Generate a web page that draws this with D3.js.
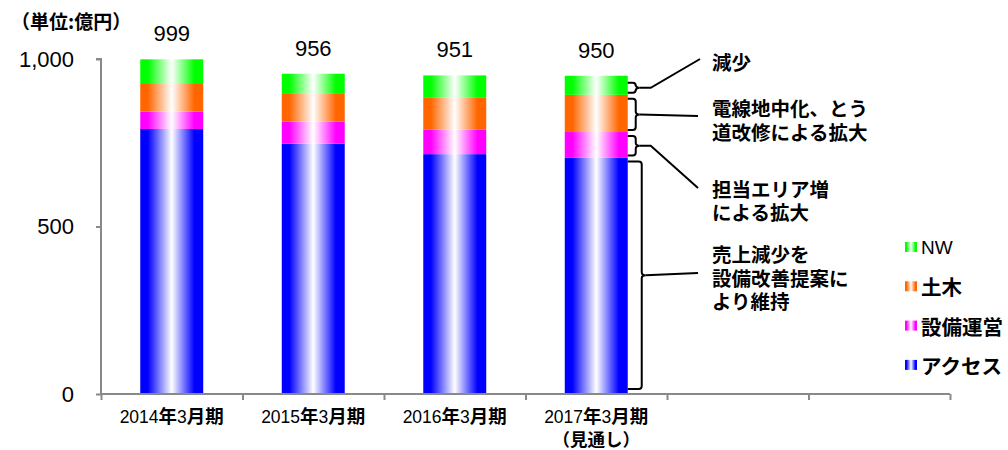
<!DOCTYPE html>
<html>
<head>
<meta charset="utf-8">
<script src="https://cdn.jsdelivr.net/npm/d3@7"></script>
<style>
  body { margin: 0; background: #fff; }
  svg { display: block; }
  .jp { font-family: "Noto Sans CJK JP", sans-serif; font-weight: bold; }
  .num { font-family: "Liberation Sans", Arial, sans-serif; }
</style>
</head>
<body>
<div id="chart"></div>
<script>
// data
const categories = ["2014年3月期", "2015年3月期", "2016年3月期", "2017年3月期"];
const subLabels = ["", "", "", "（見通し）"];
const totals = [999, 956, 951, 950];
const access = [791, 747, 716, 706];   // アクセス
const facility = [52, 66, 73, 76];     // 設備運営
const civil = [85, 85, 95, 111];       // 土木
const nw = [71, 58, 67, 57];           // NW
const seriesNames = ["アクセス", "設備運営", "土木", "NW"];
const seriesColors = ["#0000ff", "#ff00ff", "#ff6600", "#00ff00"];
const yTicks = [0, 500, 1000];
const slotCount = 6;   // 4 bars + 2 empty slots on the axis

// annotations for the last bar (series index -> lines)
const notes = [
    { series: 3, lines: ["減少"] },
    { series: 2, lines: ["電線地中化、とう", "道改修による拡大"] },
    { series: 1, lines: ["担当エリア増", "による拡大"] },
    { series: 0, lines: ["売上減少を", "設備改善提案に", "より維持"] }
];

const width = 1008;
const height = 450;
const axisLeftX = 101, axisRightX = 950, axisTopY = 59, axisBottomY = 394;

const svg = d3.select("#chart")
    .append("svg")
    .attr("width", width)
    .attr("height", height)
    .attr("viewBox", `0, 0, ${width}, ${height}`);

// gradients: color at edges, white streak in the middle
const defs = svg.append("defs");
seriesColors.forEach((c, i) => {
    const g = defs.append("linearGradient")
        .attr("id", "grad" + i)
        .attr("x1", "0%").attr("x2", "100%")
        .attr("y1", "0%").attr("y2", "0%");
    [[0, c], [0.12, c], [0.5, "#ffffff"], [0.86, c], [1, c]].forEach(s => {
        g.append("stop").attr("offset", s[0]).attr("stop-color", s[1]);
    });
});

// scales
const slots = d3.range(slotCount);
const xScale = d3.scaleBand()
    .domain(slots)
    .range([axisLeftX, axisRightX])
    .paddingInner(0.555)
    .paddingOuter(0.2775);
const edgeScale = d3.scaleLinear()
    .domain([0, slotCount])
    .range([axisLeftX, axisRightX]);
const yScale = d3.scaleLinear()
    .domain([0, 1000])
    .range([axisBottomY, axisTopY]);

// stacked data
const rows = categories.map((c, i) => ({
    idx: i, "アクセス": access[i], "設備運営": facility[i], "土木": civil[i], "NW": nw[i]
}));
const stacked = d3.stack().keys(seriesNames)(rows);

svg.append("g")
    .selectAll("g")
    .data(stacked)
    .join("g")
    .attr("fill", (d, i) => `url(#grad${i})`)
    .selectAll("rect")
    .data(d => d)
    .join("rect")
    .attr("x", d => xScale(d.data.idx))
    .attr("width", xScale.bandwidth())
    .attr("y", d => yScale(d[1]))
    .attr("height", d => yScale(d[0]) - yScale(d[1]));

// y axis
const leftAxis = d3.axisLeft(yScale)
    .tickValues(yTicks)
    .tickFormat(d3.format(","))
    .tickSize(5)
    .tickPadding(22);
const gy = svg.append("g")
    .attr("transform", `translate(${axisLeftX}, 0)`)
    .call(leftAxis);
gy.select(".domain").attr("stroke", "#898989").attr("stroke-width", 2)
    .attr("d", `M-5,${axisTopY}H0V${axisBottomY}`);
gy.selectAll(".tick line").attr("stroke", "#898989").attr("stroke-width", 2);
gy.selectAll(".tick text")
    .attr("class", "num")
    .attr("font-size", 22)
    .attr("fill", "#000");

// x axis (tick marks at slot edges)
const bottomAxis = d3.axisBottom(edgeScale)
    .tickValues(d3.range(slotCount + 1))
    .tickFormat("")
    .tickSize(6)
    .tickSizeOuter(6);
const gx = svg.append("g")
    .attr("transform", `translate(0, ${axisBottomY})`)
    .call(bottomAxis);
gx.select(".domain").attr("stroke", "#898989").attr("stroke-width", 2)
    .attr("d", `M${axisLeftX},0H${axisRightX}`);
gx.selectAll(".tick line").attr("stroke", "#898989").attr("stroke-width", 2);

// category labels (digits normal, kanji bold)
const catText = svg.append("g")
    .selectAll("text")
    .data(categories)
    .join("text")
    .attr("x", (d, i) => xScale(i) + xScale.bandwidth() / 2)
    .attr("y", 423)
    .attr("text-anchor", "middle");
catText.each(function (d) {
    const t = d3.select(this);
    d.match(/\d+|\D+/g).forEach(part => {
        const isNum = /\d/.test(part);
        t.append("tspan")
            .attr("font-family", isNum ? "Liberation Sans, Arial, sans-serif" : "Noto Sans CJK JP, sans-serif")
            .attr("font-weight", isNum ? "normal" : "bold")
            .attr("font-size", isNum ? 17.5 : 18.5)
            .text(part);
    });
});
svg.append("g")
    .selectAll("text")
    .data(subLabels)
    .join("text")
    .attr("class", "jp")
    .attr("x", (d, i) => xScale(i) + xScale.bandwidth() / 2)
    .attr("y", 446)
    .attr("text-anchor", "middle")
    .attr("font-size", 17.5)
    .text(d => d);

// value labels
svg.append("g")
    .selectAll("text")
    .data(totals)
    .join("text")
    .attr("class", "num")
    .attr("x", (d, i) => xScale(i) + xScale.bandwidth() / 2)
    .attr("y", d => yScale(d) - 18)
    .attr("text-anchor", "middle")
    .attr("font-size", 22)
    .text(d => d);

// unit label
svg.append("text")
    .attr("class", "jp")
    .attr("x", 11)
    .attr("y", 29)
    .attr("font-size", 19)
    .text("（単位:億円）");

// brackets + leaders on last bar
const last = categories.length - 1;
const bx = xScale(last) + xScale.bandwidth();
const textX = 712;
const leaderEnds = [
    { ex: 698, ey: 273, ty: [253.5, 277, 300.5] },
    { ex: 698, ey: 188, ty: [188.5, 211.5] },
    { ex: 698, ey: 116, ty: [107.5, 131.5] },
    { ex: 700, ey: 59, ty: [61.5] }
];
const ann = svg.append("g");
notes.forEach(n => {
    const seg = stacked[n.series][last];
    const y0 = yScale(seg[1]) + (n.series === 3 ? 7 : 4);
    const y1 = yScale(seg[0]) - (n.series === 0 ? 5 : 2);
    const ym = (y0 + y1) / 2;
    const xv = n.series === 0 ? bx + 14 : bx + 8;
    const r = 3, tip = 4;
    const p = d3.path();
    p.moveTo(bx, y0);
    p.lineTo(xv - r, y0);
    p.quadraticCurveTo(xv, y0, xv, y0 + r);
    p.lineTo(xv, ym - r);
    p.quadraticCurveTo(xv, ym, xv + tip, ym);
    p.quadraticCurveTo(xv, ym, xv, ym + r);
    p.lineTo(xv, y1 - r);
    p.quadraticCurveTo(xv, y1, xv - r, y1);
    p.lineTo(bx, y1);
    ann.append("path")
        .attr("d", p.toString())
        .attr("fill", "none")
        .attr("stroke", "#000")
        .attr("stroke-width", 2);

    const le = leaderEnds[n.series];
    const lp = d3.path();
    lp.moveTo(xv + tip, ym);
    if (Math.abs(le.ey - ym) > 6) {
        lp.lineTo(bx + 23, ym);
    }
    lp.lineTo(le.ex, le.ey);
    ann.append("path")
        .attr("d", lp.toString())
        .attr("fill", "none")
        .attr("stroke", "#000")
        .attr("stroke-width", 2);

    n.lines.forEach((line, k) => {
        ann.append("text")
            .attr("class", "jp")
            .attr("x", textX)
            .attr("y", le.ty[k])
            .attr("dominant-baseline", "central")
            .attr("font-size", 19.5)
            .text(line);
    });
});

// legend
const legendItems = seriesNames.map((s, i) => ({ name: s, i })).reverse();
const legend = svg.append("g")
    .selectAll("g")
    .data(legendItems)
    .join("g")
    .attr("transform", (d, k) => `translate(905, ${247 + k * 39.3})`);
legend.append("rect")
    .attr("x", 0)
    .attr("y", -5)
    .attr("width", 12)
    .attr("height", 10)
    .attr("fill", d => `url(#grad${d.i})`);
legend.append("text")
    .attr("x", 16)
    .attr("y", 0)
    .attr("dominant-baseline", "central")
    .attr("font-size", d => d.name === "NW" ? 19 : 20.5)
    .attr("font-family", d => d.name === "NW" ? "Liberation Sans, Arial, sans-serif" : "Noto Sans CJK JP, sans-serif")
    .attr("font-weight", d => d.name === "NW" ? "normal" : "bold")
    .text(d => d.name);
</script>
</body>
</html>
